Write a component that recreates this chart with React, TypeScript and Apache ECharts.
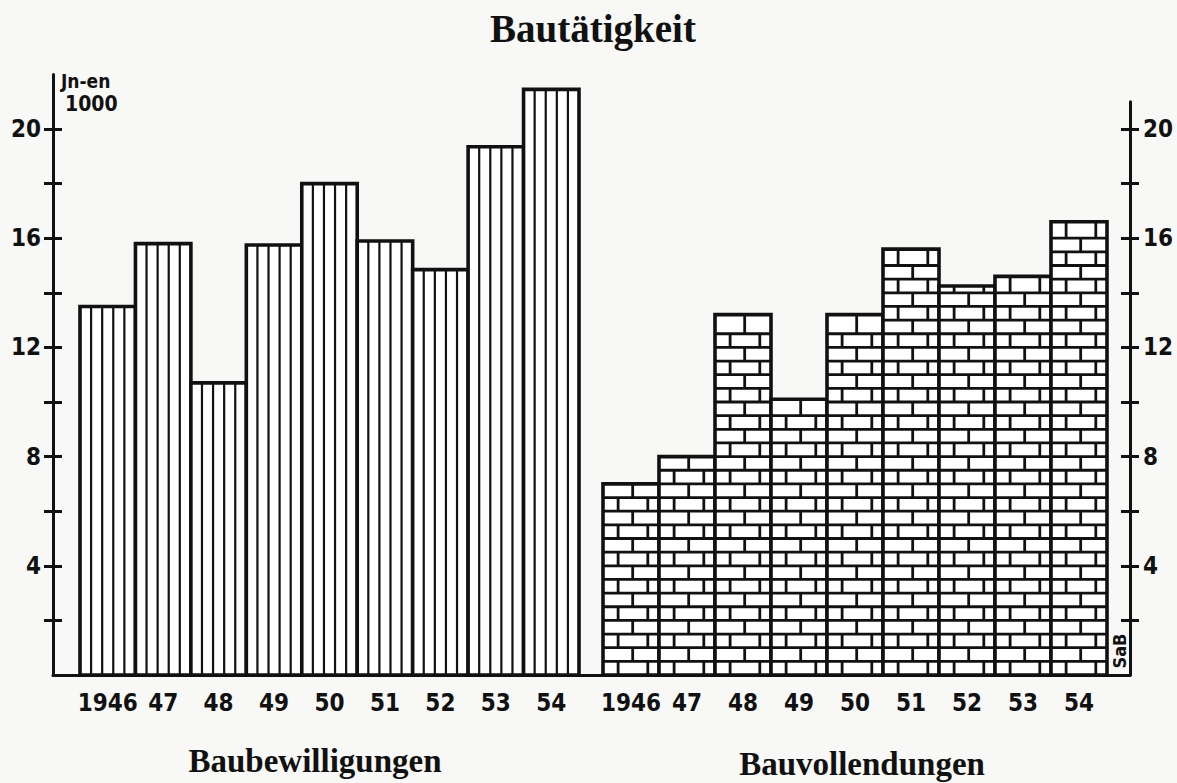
import { useEffect, useRef } from "react";
import * as echarts from "echarts";

const years = ["1946", "47", "48", "49", "50", "51", "52", "53", "54"];
const bewilligungen = [13.5, 15.8, 10.7, 15.75, 18.0, 15.9, 14.85, 19.35, 21.45];
const vollendungen = [7.0, 8.0, 13.2, 10.1, 13.2, 15.6, 14.25, 14.6, 16.6];
const tickValues = [2, 4, 6, 8, 10, 12, 14, 16, 18, 20];
const labelValues = [4, 8, 12, 16, 20];

const U = 27.3;
const BASE = 675;
const H = 783;
const INK = "#111";
const handFont = "'DejaVu Sans Condensed', 'DejaVu Sans', sans-serif";
const serif = "'Liberation Serif', 'DejaVu Serif', serif";

function barBox(api: any) {
  const idx = api.value(0);
  const v = api.value(1);
  const top = api.coord([idx, v]);
  const base = api.coord([idx, 0]);
  const w = api.size([1, 0])[0];
  return { x0: top[0] - w / 2, w, y0: top[1], y1: base[1] };
}

function renderStriped(_p: any, api: any) {
  const { x0, w, y0, y1 } = barBox(api);
  const children: any[] = [
    { type: "rect", shape: { x: x0, y: y0, width: w, height: y1 - y0 }, style: { fill: "#fff" } },
  ];
  for (let k = 1; k < 5; k++) {
    const x = x0 + (w * k) / 5;
    children.push({ type: "line", shape: { x1: x, y1: y0, x2: x, y2: y1 }, style: { stroke: INK, lineWidth: 2.2 } });
  }
  children.push({
    type: "rect",
    shape: { x: x0, y: y0, width: w, height: y1 - y0 },
    style: { fill: "none", stroke: INK, lineWidth: 3.6 },
  });
  return { type: "group", children };
}

function renderBrick(_p: any, api: any) {
  const { x0, w, y0, y1 } = barBox(api);
  const rowH = api.size([0, 0.5])[1];
  const children: any[] = [
    { type: "rect", shape: { x: x0, y: y0, width: w, height: y1 - y0 }, style: { fill: "#fff" } },
  ];
  let r = 0;
  for (let yb = y1; yb > y0 + 1; r++) {
    let yt = yb - rowH;
    if (yt - y0 < rowH * 0.45) yt = y0;
    if (yt > y0 + 1) {
      children.push({ type: "line", shape: { x1: x0, y1: yt, x2: x0 + w, y2: yt }, style: { stroke: INK, lineWidth: 2.8 } });
    }
    const joints = r % 2 === 0 ? [x0 + w * 0.27, x0 + w * 0.8] : [x0 + w * 0.53];
    joints.forEach((x) => {
      children.push({ type: "line", shape: { x1: x, y1: yb, x2: x, y2: yt }, style: { stroke: INK, lineWidth: 2.8 } });
    });
    yb = yt;
  }
  children.push({
    type: "rect",
    shape: { x: x0, y: y0, width: w, height: y1 - y0 },
    style: { fill: "none", stroke: INK, lineWidth: 3.6 },
  });
  return { type: "group", children };
}

function yAxisPair(gridIndex: number, position: "left" | "right", max: number, margin: number) {
  const common = {
    type: "value",
    gridIndex,
    position,
    min: 0,
    max,
    splitLine: { show: false },
  };
  return [
    {
      ...common,
      axisLine: { show: true, onZero: false, lineStyle: { color: INK, width: 3 } },
      axisTick: { show: true, length: 9, customValues: tickValues, lineStyle: { color: INK, width: 3 } },
      axisLabel: {
        show: true,
        customValues: labelValues,
        margin,
        color: INK,
        fontFamily: handFont,
        fontWeight: "bold",
        fontSize: 24,
      },
    },
    {
      ...common,
      axisLine: { show: false, onZero: false },
      axisTick: { show: true, inside: true, length: 9, customValues: tickValues, lineStyle: { color: INK, width: 3 } },
      axisLabel: { show: false },
    },
  ];
}

export default function App() {
  const ref = useRef<HTMLDivElement>(null);
  useEffect(() => {
    if (!ref.current) return;
    const chart = echarts.init(ref.current, undefined, { renderer: "svg" });
    const top22 = BASE - 22 * U;
    const top21 = BASE - 21 * U;
    const bottom = H - BASE;
    const xCat = (gridIndex: number) => ({
      type: "category",
      gridIndex,
      data: years,
      boundaryGap: true,
      axisLine: { show: false },
      axisTick: { show: false },
      splitLine: { show: false },
      axisLabel: {
        interval: 0,
        margin: 16,
        color: INK,
        fontFamily: handFont,
        fontWeight: "bold",
        fontSize: 24,
      },
    });
    const option: any = {
      animation: false,
      backgroundColor: "#f8f8f6",
      grid: [
        { left: 53, right: 47, top: top22, bottom },
        { left: 53, right: 47, top: top21, bottom },
        { left: 80, width: 499, top: top22, bottom },
        { left: 603, width: 504, top: top22, bottom },
      ],
      xAxis: [
        {
          type: "value",
          gridIndex: 0,
          min: 0,
          max: 1,
          axisLine: { show: true, onZero: false, lineStyle: { color: INK, width: 3 } },
          axisTick: { show: false },
          axisLabel: { show: false },
          splitLine: { show: false },
        },
        {
          type: "value",
          gridIndex: 1,
          min: 0,
          max: 1,
          show: false,
        },
        xCat(2),
        xCat(3),
      ],
      yAxis: [
        ...yAxisPair(0, "left", 22, 12),
        ...yAxisPair(1, "right", 21, 13),
        { type: "value", gridIndex: 2, min: 0, max: 22, show: false },
        { type: "value", gridIndex: 3, min: 0, max: 22, show: false },
      ],
      series: [
        {
          name: "Baubewilligungen",
          type: "custom",
          xAxisIndex: 2,
          yAxisIndex: 4,
          renderItem: renderStriped,
          encode: { x: 0, y: 1 },
          data: bewilligungen.map((v, i) => [i, v]),
          clip: false,
          z: 3,
        },
        {
          name: "Bauvollendungen",
          type: "custom",
          xAxisIndex: 3,
          yAxisIndex: 5,
          renderItem: renderBrick,
          encode: { x: 0, y: 1 },
          data: vollendungen.map((v, i) => [i, v]),
          clip: false,
          z: 3,
        },
      ],
      graphic: [
        {
          type: "text",
          x: 593,
          y: 42 - 0.3375 * 39,
          style: { text: "Bautätigkeit", font: `bold 39px ${serif}`, fill: INK, align: "center", verticalAlign: "middle" },
        },
        {
          type: "text",
          x: 315,
          y: 772 - 0.3375 * 33,
          style: { text: "Baubewilligungen", font: `bold 33px ${serif}`, fill: INK, align: "center", verticalAlign: "middle" },
        },
        {
          type: "text",
          x: 862,
          y: 775 - 0.3375 * 33,
          style: { text: "Bauvollendungen", font: `bold 33px ${serif}`, fill: INK, align: "center", verticalAlign: "middle" },
        },
        {
          type: "text",
          x: 61,
          y: 81,
          style: { text: "Jn-en", font: `bold 19px ${handFont}`, fill: INK, align: "left", verticalAlign: "middle" },
        },
        {
          type: "text",
          x: 65,
          y: 104,
          style: { text: "1000", font: `bold 21px ${handFont}`, fill: INK, align: "left", verticalAlign: "middle" },
        },
        {
          type: "text",
          x: 1119,
          y: 651,
          rotation: Math.PI / 2,
          style: { text: "SaB", font: `bold 18px ${handFont}`, fill: INK, align: "center", verticalAlign: "middle" },
        },
      ],
    };
    chart.setOption(option);
    return () => chart.dispose();
  }, []);
  return (
    <div
      ref={ref}
      style={{ position: "absolute", left: 0, top: 0, width: 1177, height: 783 }}
    />
  );
}
